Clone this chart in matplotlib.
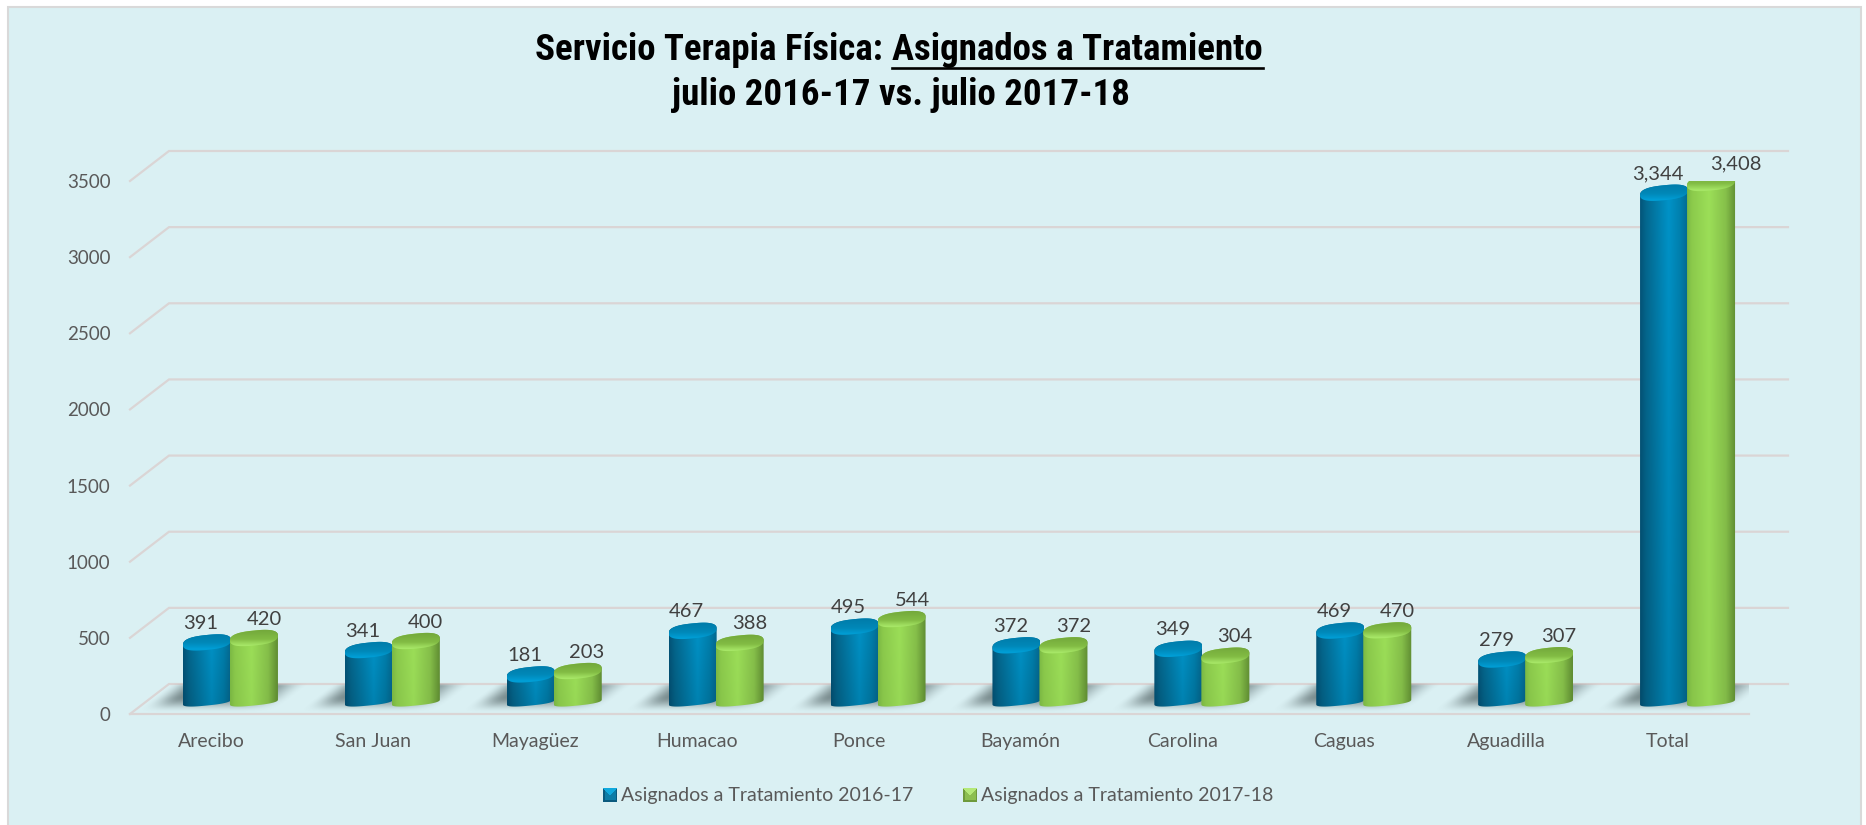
import numpy as np
import matplotlib
matplotlib.use("Agg")
import matplotlib.pyplot as plt
from matplotlib.path import Path
from matplotlib.patches import PathPatch, Rectangle

W, H = 1866, 825

categories = ["Arecibo", "San Juan", "Mayagüez", "Humacao", "Ponce",
              "Bayamón", "Carolina", "Caguas", "Aguadilla", "Total"]
valores_2016 = [391, 341, 181, 467, 495, 372, 349, 469, 279, 3344]
valores_2017 = [420, 400, 203, 388, 544, 372, 304, 470, 307, 3408]
y_ticks = [0, 500, 1000, 1500, 2000, 2500, 3000, 3500]
serie_2016 = "Asignados a Tratamiento 2016-17"
serie_2017 = "Asignados a Tratamiento 2017-18"

BG = "#DAF0F3"
GRID = "#DAD5D5"
PX_X = 161.9
PX_Y = 533 / 3500


def rgb(c):
    return np.array(matplotlib.colors.to_rgb(c))


def ramp(stops, n):
    pos = [s[0] for s in stops]
    cols = np.array([rgb(s[1]) for s in stops])
    t = np.linspace(0, 1, n)
    return np.stack([np.interp(t, pos, cols[:, k]) for k in range(3)], axis=1)


def smooth(a):
    a = np.clip(a, 0, 1)
    return a * a * (3 - 2 * a)


BLUE_BODY = [(0, "#03557A"), (0.12, "#04688F"), (0.6, "#0093C8"), (0.85, "#0080AE"), (1, "#056A92")]
GREEN_BODY = [(0, "#7DBB45"), (0.1, "#8CCB4C"), (0.45, "#9CDF58"), (0.8, "#86C04A"), (1, "#618F33")]
BLUE_TOP = [(0, "#0078A6"), (0.55, "#0088B8"), (0.85, "#00A0D8"), (1, "#0090C4")]
GREEN_TOP = [(0, "#6FA238"), (0.55, "#82BC44"), (0.85, "#A8E868"), (1, "#94D650")]


def ellipse_points(cx, cy, hw, hh, t):
    # tilted, slightly squarish ellipse, sizes in px
    c = np.sign(np.cos(t)) * np.abs(np.cos(t)) ** 0.75
    s = np.sign(np.sin(t)) * np.abs(np.sin(t)) ** 0.8
    x = cx + hw / PX_X * c
    y = cy + (hh * s + 0.10 * hw * c) / PX_Y
    return x, y


def draw_cylinder(ax, cx, value, body, top, darken, z):
    hw = 24
    base = 12 / PX_Y
    top_y = base + value
    t_bot = np.linspace(np.pi, 2 * np.pi, 40)
    t_top = np.linspace(0, np.pi, 40)
    xb, yb = ellipse_points(cx, base, hw, 3.5, t_bot)
    xt, yt = ellipse_points(cx, top_y, hw, 7.5, t_top)
    verts = np.column_stack([np.r_[xb, xt], np.r_[yb, yt]])
    patch = PathPatch(Path(np.vstack([verts, verts[:1]])), transform=ax.transData, fc="none", ec="none")
    ax.add_patch(patch)

    cols = ramp(body, 64)
    shade = np.linspace(1.0, darken, 80)[:, None, None]
    img = cols[None, :, :] * shade
    x0, x1 = cx - hw / PX_X, cx + hw / PX_X
    y0, y1 = base - 30, top_y + 10 / PX_Y
    im = ax.imshow(img, extent=[x0, x1, y0, y1], aspect="auto", origin="upper",
                   interpolation="bilinear", zorder=z)
    im.set_clip_path(patch)

    # tapa superior
    t = np.linspace(0, 2 * np.pi, 80)
    xc, yc = ellipse_points(cx, top_y, hw, 7.5, t)
    cap = PathPatch(Path(np.column_stack([xc, yc])), transform=ax.transData, fc="none", ec="none")
    ax.add_patch(cap)
    cols = ramp(top, 40)[:, None, :]
    im2 = ax.imshow(cols, extent=[x0, x1, top_y - 11 / PX_Y, top_y + 11 / PX_Y], aspect="auto",
                    origin="upper", interpolation="bilinear", zorder=z + 0.1)
    im2.set_clip_path(cap)


def draw_shadow(ax, i):
    nx, ny = 240, 40
    u = np.linspace(-70, 110, nx)
    v = np.linspace(0, 29, ny)
    uu, vv = np.meshgrid(u, v)
    shifted = uu + vv * 39 / 30
    left = smooth((shifted + 40) / 30)
    right = smooth((100 - shifted) / 42)
    prof = smooth((29 - vv) / 16) * smooth((vv + 1) / 4)
    alpha = 0.66 * left * right * prof
    img = np.zeros((ny, nx, 4))
    img[..., :3] = rgb("#4A5A5C")
    img[..., 3] = alpha
    ax.imshow(img, extent=[i - 70 / PX_X, i + 110 / PX_X, 1 / PX_Y, 30 / PX_Y], aspect="auto",
              origin="upper", interpolation="bilinear", zorder=2)


def swatch(fig, x, y, size, dark, mid, bright):
    sw = fig.add_axes([x / W, 1 - (y + size) / H, size / W, size / H])
    sw.axis("off")
    n = 14
    img = np.zeros((n, n, 3))
    for r in range(n):
        for c in range(n):
            d = abs(c - (n - 1) / 2)
            if r < 7 and d < 7 - r:
                img[r, c] = bright
            elif c < 2 or c >= n - 1 or r >= n - 2:
                img[r, c] = dark
            else:
                img[r, c] = mid
    sw.imshow(img, aspect="auto", interpolation="bilinear")


plt.rcParams["font.family"] = ["Lato", "DejaVu Sans"]
fig = plt.figure(figsize=(W / 100, H / 100), dpi=100, facecolor="white")
fig.add_artist(Rectangle((8 / W, -0.01), (1861 - 8) / W, 1.01 - 7 / H, transform=fig.transFigure,
                         fc=BG, ec="#D9D9D9", lw=1.5, zorder=-5))

ax = fig.add_axes([130 / W, 1 - 714 / H, 10 * PX_X / W, 533 / H])
ax.patch.set_alpha(0)
for s in ax.spines.values():
    s.set_visible(False)

dx, dy = 39 / PX_X, 30 / PX_Y
for v in y_ticks:
    ax.plot([-0.5, -0.5 + dx, 9.5 + dx], [v, v + dy, v + dy], color=GRID, lw=1.6,
            clip_on=False, zorder=1, solid_joinstyle="miter")
ax.plot([-0.5, 9.5], [0, 0], color=GRID, lw=1.6, clip_on=False, zorder=1)

x = np.arange(len(categories))
for i in x:
    draw_shadow(ax, i)
for i, a, b in zip(x, valores_2016, valores_2017):
    draw_cylinder(ax, i + (207 - 211) / PX_X, a, BLUE_BODY, BLUE_TOP, 0.88, 3)
    draw_cylinder(ax, i + (254 - 211) / PX_X, b, GREEN_BODY, GREEN_TOP, 0.97, 4)
    base = 12 / PX_Y
    ax.text(i + (201 - 211) / PX_X, base + a + 19 / PX_Y, f"{a:,}", ha="center", va="center",
            fontsize=14.5, color="#404040", zorder=6, clip_on=False)
    ax.text(i + (254 + 8 + 0.005 * b - 211) / PX_X, base + b + 19 / PX_Y, f"{b:,}", ha="center",
            va="center", fontsize=14.5, color="#404040", zorder=6, clip_on=False)

ax.set_xlim(-0.5, 9.5)
ax.set_ylim(0, 3500)
ax.set_xticks(x)
ax.set_xticklabels(categories)
ax.set_yticks(y_ticks)
ax.tick_params(axis="both", length=0, labelsize=13.5, labelcolor="#595959")
ax.tick_params(axis="x", pad=14, labelsize=14)
ax.tick_params(axis="y", pad=14)

# titulo, con la parte subrayada aparte
title_font = dict(family=["Roboto Condensed", "Liberation Sans"], weight="bold",
                  fontsize=26.6, color="black")
fig.text(883 / W, 1 - 60 / H, "Servicio Terapia Física:", ha="right", va="baseline", **title_font)
under = fig.text(892 / W, 1 - 60 / H, "Asignados a Tratamiento", ha="left", va="baseline", **title_font)
fig.text(901 / W, 1 - 105 / H, "julio 2016-17 vs. julio 2017-18", ha="center", va="baseline", **title_font)
fig.canvas.draw()
bb = under.get_window_extent()
fig.add_artist(plt.Line2D([bb.x0 / W, bb.x1 / W], [1 - 67.5 / H] * 2, color="black", lw=1.9,
                          transform=fig.transFigure))

# leyenda
swatch(fig, 603, 788, 14, rgb("#0A5A7E"), rgb("#0C7CA6"), rgb("#10A8DC"))
swatch(fig, 963, 788, 14, rgb("#6E9A3C"), rgb("#8CBE50"), rgb("#B4E878"))
fig.text(621 / W, 1 - 795.5 / H, serie_2016, ha="left", va="center", fontsize=14, color="#595959")
fig.text(981 / W, 1 - 795.5 / H, serie_2017, ha="left", va="center", fontsize=14, color="#595959")

fig.savefig("out.png", dpi=100, facecolor="white")
